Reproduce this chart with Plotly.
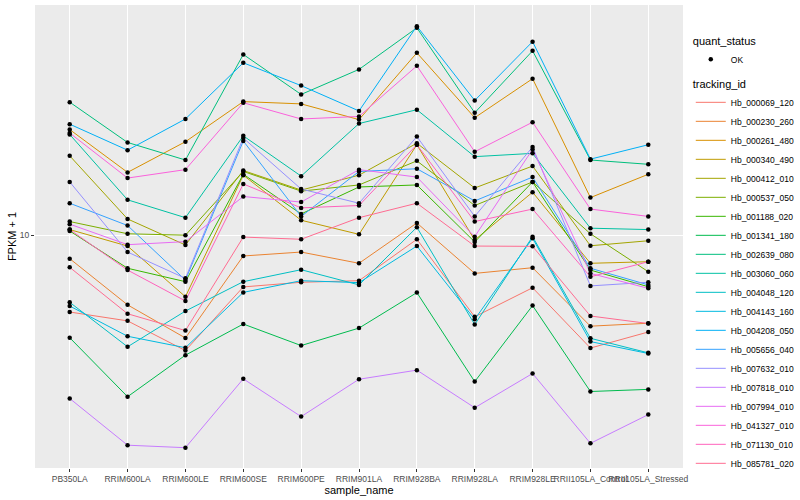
import plotly.graph_objects as go

samples = ["PB350LA", "RRIM600LA", "RRIM600LE", "RRIM600SE", "RRIM600PE", "RRIM901LA",
           "RRIM928BA", "RRIM928LA", "RRIM928LE", "RRII105LA_Control", "RRII105LA_Stressed"]

tracking_ids = ["Hb_000069_120", "Hb_000230_260", "Hb_000261_480", "Hb_000340_490", "Hb_000412_010",
                "Hb_000537_050", "Hb_001188_020", "Hb_001341_180", "Hb_002639_080", "Hb_003060_060",
                "Hb_004048_120", "Hb_004143_160", "Hb_004208_050", "Hb_005656_040", "Hb_007632_010",
                "Hb_007818_010", "Hb_007994_010", "Hb_041327_010", "Hb_071130_010", "Hb_085781_020"]

colors = ["#F8766D", "#EA8331", "#D89000", "#C09B00", "#A3A500", "#7CAE00", "#39B600", "#00BB4E",
          "#00BF7D", "#00C1A3", "#00BFC4", "#00BAE0", "#00B0F6", "#35A2FF", "#9590FF", "#C77CFF",
          "#E76BF3", "#FA62DB", "#FF62BC", "#FF6C91"]

# FPKM + 1 per tracking_id, in sample order
Hb_000069_120 = [5.85, 5.50, 4.47, 6.97, 7.20, 7.28, 9.72, 5.66, 6.93, 4.55, 5.09]
Hb_000230_260 = [8.49, 6.15, 4.88, 8.65, 8.89, 8.22, 10.89, 7.66, 7.97, 5.30, 5.41]
Hb_000261_480 = [20.9, 15.5, 19.2, 25.4, 25.0, 22.4, 35.7, 22.7, 29.8, 13.0, 15.3]
Hb_000340_490 = [10.4, 9.27, 6.51, 15.2, 11.1, 10.06, 18.8, 9.67, 13.5, 8.22, 8.31]
Hb_000412_010 = [17.4, 11.2, 9.34, 15.7, 13.7, 15.2, 19.0, 13.9, 16.2, 9.29, 9.62]
Hb_000537_050 = [11.0, 10.1, 10.0, 15.6, 13.6, 14.2, 16.8, 12.3, 14.5, 10.1, 7.75]
Hb_001188_020 = [10.3, 7.94, 7.23, 15.3, 11.6, 14.0, 14.2, 9.54, 14.5, 7.84, 6.98]
Hb_001341_180 = [4.89, 3.24, 4.33, 5.38, 4.63, 5.23, 6.70, 3.60, 6.12, 3.36, 3.41]
Hb_002639_080 = [25.3, 19.1, 16.9, 35.3, 26.7, 31.8, 42.5, 23.5, 36.2, 16.9, 16.4]
Hb_003060_060 = [20.2, 12.8, 11.3, 20.0, 15.1, 21.8, 24.0, 17.3, 17.7, 10.5, 10.4]
Hb_004048_120 = [6.26, 4.59, 5.89, 7.23, 7.86, 7.07, 10.57, 5.36, 9.90, 4.87, 4.40]
Hb_004143_160 = [6.10, 4.94, 4.56, 6.71, 7.28, 7.18, 9.27, 5.56, 9.79, 4.76, 4.38]
Hb_004208_050 = [21.7, 18.1, 22.5, 33.3, 28.4, 23.8, 43.0, 25.6, 38.6, 17.0, 18.8]
Hb_005656_040 = [12.5, 10.7, 7.31, 19.3, 11.4, 15.6, 15.9, 12.7, 15.0, 7.94, 7.07]
Hb_007632_010 = [14.5, 8.89, 7.40, 19.7, 13.8, 12.5, 19.9, 11.4, 18.5, 7.02, 7.20]
Hb_007818_010 = [3.20, 2.31, 2.27, 3.67, 2.82, 3.66, 3.90, 3.00, 3.81, 2.34, 2.86]
Hb_007994_010 = [10.8, 9.36, 9.56, 13.1, 12.6, 15.8, 15.0, 9.90, 18.2, 7.66, 6.90]
Hb_041327_010 = [20.4, 14.9, 15.8, 25.2, 22.5, 22.9, 32.6, 17.9, 22.0, 12.0, 11.4]
Hb_071130_010 = [10.4, 7.84, 6.32, 14.3, 12.1, 12.3, 18.8, 11.0, 12.0, 7.48, 8.31]
Hb_085781_020 = [7.99, 5.78, 5.14, 9.87, 9.72, 11.3, 12.5, 9.27, 9.25, 5.69, 5.40]

series = [Hb_000069_120, Hb_000230_260, Hb_000261_480, Hb_000340_490, Hb_000412_010,
          Hb_000537_050, Hb_001188_020, Hb_001341_180, Hb_002639_080, Hb_003060_060,
          Hb_004048_120, Hb_004143_160, Hb_004208_050, Hb_005656_040, Hb_007632_010,
          Hb_007818_010, Hb_007994_010, Hb_041327_010, Hb_071130_010, Hb_085781_020]

FONT = "Liberation Sans, Arial, sans-serif"

fig = go.Figure()
for name, vals, col in zip(tracking_ids, series, colors):
    fig.add_trace(go.Scatter(x=samples, y=vals, mode="lines", name=name,
                             line=dict(color=col, width=1), legend="legend"))

all_x, all_y = [], []
for vals in series:
    all_x += samples
    all_y += vals
fig.add_trace(go.Scatter(x=all_x, y=all_y, mode="markers", name="OK",
                         marker=dict(color="black", size=4.5, symbol="circle"),
                         legend="legend2"))

fig.update_layout(
    width=800, height=500,
    margin=dict(l=35, r=117, t=5, b=32, autoexpand=False),
    paper_bgcolor="white", plot_bgcolor="#EBEBEB",
    font=dict(family=FONT, color="black"),
    showlegend=True,
    legend=dict(title=dict(text="tracking_id", font=dict(size=11)),
                font=dict(size=8.5), x=1.012, y=0.852, xanchor="left", yanchor="top",
                itemwidth=30, bgcolor="rgba(0,0,0,0)", tracegroupgap=0),
    legend2=dict(title=dict(text="quant_status", font=dict(size=11)),
                 font=dict(size=8.5), x=1.012, y=0.945, xanchor="left", yanchor="top",
                 itemwidth=30, bgcolor="rgba(0,0,0,0)"),
    xaxis=dict(type="category", categoryorder="array", categoryarray=samples,
               range=[-0.6, 10.6], showgrid=True, gridcolor="white", gridwidth=1,
               tickangle=0, tickfont=dict(size=8.5, color="#4D4D4D"),
               ticks="outside", ticklen=3, tickcolor="#333333", zeroline=False,
               title=dict(text="sample_name", font=dict(size=11), standoff=2)),
    yaxis=dict(type="log", range=[0.2945, 1.6976], tickvals=[10], ticktext=["10"],
               showgrid=True, gridcolor="white", gridwidth=1,
               tickfont=dict(size=8.5, color="#4D4D4D"),
               ticks="outside", ticklen=3, tickcolor="#333333", zeroline=False,
               title=dict(text="FPKM + 1", font=dict(size=11), standoff=0)),
)

fig.write_html("out.html", config={"displayModeBar": False},
               post_script="document.body.style.margin='0px';")
